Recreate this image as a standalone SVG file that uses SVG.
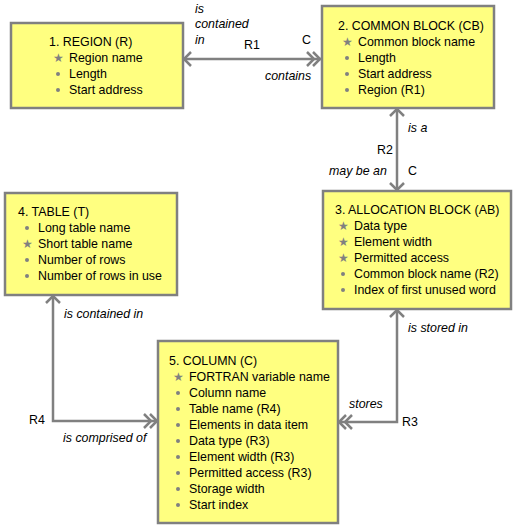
<svg xmlns="http://www.w3.org/2000/svg" width="516" height="528" viewBox="0 0 516 528">
<style>
.box{fill:#ffff80;stroke:#808080;stroke-width:2.5}
.t{font-family:"Liberation Sans",Arial,sans-serif;font-size:12.4px;fill:#000}
.i{font-style:italic}
.ln{fill:none;stroke:#808080;stroke-width:2.5}
.dot{fill:#808080}
.star{font-family:"DejaVu Sans",sans-serif;font-size:12px;fill:#808080}
</style>
<rect width="516" height="528" fill="#fff"/>
<g id="connectors">
<g id="R1">
<path class="ln" d="M183,59 H322"/>
<path class="ln" d="M191,52 L184,59 L191,66"/>
<path class="ln" d="M313,52 L320,59 L313,66 M307,52 L314,59 L307,66"/>
<text class="t i" x="195" y="13">is</text>
<text class="t i" x="195" y="28">contained</text>
<text class="t i" x="195" y="44">in</text>
<text class="t" x="244" y="49">R1</text>
<text class="t" x="302" y="44">C</text>
<text class="t i" x="265" y="80">contains</text>
</g>
<g id="R2">
<path class="ln" d="M397,108 V191"/>
<path class="ln" d="M390,116 L397,109 L404,116"/>
<path class="ln" d="M390,183 L397,190 L404,183"/>
<text class="t i" x="408" y="132">is a</text>
<text class="t" x="377" y="154">R2</text>
<text class="t i" x="329" y="175">may be an</text>
<text class="t" x="408" y="175">C</text>
</g>
<g id="R3">
<path class="ln" d="M397,309 V422 H338"/>
<path class="ln" d="M390,317 L397,310 L404,317"/>
<path class="ln" d="M346,415 L339,422 L346,429 M352,415 L345,422 L352,429"/>
<text class="t i" x="408" y="332">is stored in</text>
<text class="t i" x="349" y="408">stores</text>
<text class="t" x="402" y="426">R3</text>
</g>
<g id="R4">
<path class="ln" d="M53,295 V421 H158"/>
<path class="ln" d="M46,303 L53,296 L60,303"/>
<path class="ln" d="M150,414 L157,421 L150,428 M144,414 L151,421 L144,428"/>
<text class="t i" x="64" y="318">is contained in</text>
<text class="t" x="29" y="424">R4</text>
<text class="t i" x="63" y="442">is comprised of</text>
</g>
</g>
<g id="node1">
<rect class="box" x="11" y="23" width="172" height="85"/>
<text class="t" x="49" y="46">1. REGION (R)</text>
<text class="star" x="53" y="62">★</text><text class="t" x="69" y="62">Region name</text>
<circle class="dot" cx="58" cy="74" r="2"/><text class="t" x="69" y="78">Length</text>
<circle class="dot" cx="58" cy="90" r="2"/><text class="t" x="69" y="94">Start address</text>
</g>
<g id="node2">
<rect class="box" x="322" y="6" width="172" height="102"/>
<text class="t" x="338" y="30">2. COMMON BLOCK (CB)</text>
<text class="star" x="342" y="46">★</text><text class="t" x="358" y="46">Common block name</text>
<circle class="dot" cx="347" cy="58" r="2"/><text class="t" x="358" y="62">Length</text>
<circle class="dot" cx="347" cy="74" r="2"/><text class="t" x="358" y="78">Start address</text>
<circle class="dot" cx="347" cy="90" r="2"/><text class="t" x="358" y="94">Region (R1)</text>
</g>
<g id="node3">
<rect class="box" x="323" y="191" width="188" height="118"/>
<text class="t" x="335" y="214">3. ALLOCATION BLOCK (AB)</text>
<text class="star" x="338" y="230">★</text><text class="t" x="354" y="230">Data type</text>
<text class="star" x="338" y="246">★</text><text class="t" x="354" y="246">Element width</text>
<text class="star" x="338" y="262">★</text><text class="t" x="354" y="262">Permitted access</text>
<circle class="dot" cx="343" cy="274" r="2"/><text class="t" x="354" y="278">Common block name (R2)</text>
<circle class="dot" cx="343" cy="290" r="2"/><text class="t" x="354" y="294">Index of first unused word</text>
</g>
<g id="node4">
<rect class="box" x="5" y="193" width="172" height="102"/>
<text class="t" x="18" y="216">4. TABLE (T)</text>
<circle class="dot" cx="27" cy="228" r="2"/><text class="t" x="38" y="232">Long table name</text>
<text class="star" x="22" y="248">★</text><text class="t" x="38" y="248">Short table name</text>
<circle class="dot" cx="27" cy="260" r="2"/><text class="t" x="38" y="264">Number of rows</text>
<circle class="dot" cx="27" cy="276" r="2"/><text class="t" x="38" y="280">Number of rows in use</text>
</g>
<g id="node5">
<rect class="box" x="158" y="341" width="180" height="182"/>
<text class="t" x="169" y="365">5. COLUMN (C)</text>
<text class="star" x="173" y="381">★</text><text class="t" x="189" y="381">FORTRAN variable name</text>
<circle class="dot" cx="178" cy="393" r="2"/><text class="t" x="189" y="397">Column name</text>
<circle class="dot" cx="178" cy="409" r="2"/><text class="t" x="189" y="413">Table name (R4)</text>
<circle class="dot" cx="178" cy="425" r="2"/><text class="t" x="189" y="429">Elements in data item</text>
<circle class="dot" cx="178" cy="441" r="2"/><text class="t" x="189" y="445">Data type (R3)</text>
<circle class="dot" cx="178" cy="457" r="2"/><text class="t" x="189" y="461">Element width (R3)</text>
<circle class="dot" cx="178" cy="473" r="2"/><text class="t" x="189" y="477">Permitted access (R3)</text>
<circle class="dot" cx="178" cy="489" r="2"/><text class="t" x="189" y="493">Storage width</text>
<circle class="dot" cx="178" cy="505" r="2"/><text class="t" x="189" y="509">Start index</text>
</g>
</svg>
